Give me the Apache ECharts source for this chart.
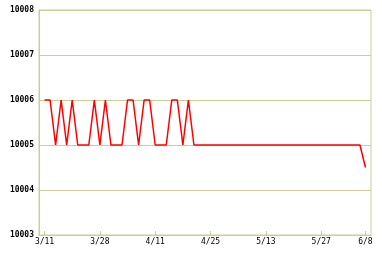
<!DOCTYPE html>
<html><head><meta charset="utf-8">
<script src="https://cdn.jsdelivr.net/npm/echarts@6/dist/echarts.min.js"></script>
<style>html,body{margin:0;padding:0;background:#fff}#c{width:382px;height:258px}</style>
</head><body><div id="c"></div>
<script>
// point index -> tick label
const tickIndex = [0, 10, 20, 30, 40, 50, 58];
const tickLabels = ['3/11', '3/28', '4/11', '4/25', '5/13', '5/27', '6/8'];
const values = [
  10006, 10006, 10005, 10006, 10005, 10006, 10005, 10005, 10005, 10006,
  10005, 10006, 10005, 10005, 10005, 10006, 10006, 10005, 10006, 10006,
  10005, 10005, 10005, 10006, 10006, 10005, 10006, 10005, 10005, 10005,
  10005, 10005, 10005, 10005, 10005, 10005, 10005, 10005, 10005, 10005,
  10005, 10005, 10005, 10005, 10005, 10005, 10005, 10005, 10005, 10005,
  10005, 10005, 10005, 10005, 10005, 10005, 10005, 10005, 10004.5
];
const yMin = 10003, yMax = 10008, yStep = 1;

// categories: one padding slot before and after the data
const categories = ['pad0'];
for (let i = 0; i < values.length; i++) {
  const k = tickIndex.indexOf(i);
  categories.push(k >= 0 ? tickLabels[k] : 'p' + i);
}
categories.push('pad1');
const seriesData = [null].concat(values).concat([null]);
const isTick = (idx) => tickIndex.indexOf(idx - 1) >= 0;

const gridColor = '#cccc99';
const chart = echarts.init(document.getElementById('c'), null, {renderer: 'canvas'});
chart.setOption({
  animation: false,
  backgroundColor: '#ffffff',
  grid: {left: 39, top: 10, right: 11, bottom: 23, show: true, borderColor: gridColor, borderWidth: 1, containLabel: false},
  xAxis: {
    type: 'category',
    data: categories,
    boundaryGap: false,
    axisLine: {lineStyle: {color: gridColor, width: 1}},
    axisTick: {inside: true, length: 4, lineStyle: {color: gridColor}, interval: (idx) => isTick(idx)},
    axisLabel: {
      interval: (idx) => isTick(idx),
      color: '#000', fontFamily: 'DejaVu Sans Mono', fontSize: 8, margin: 3
    },
    splitLine: {show: false}
  },
  yAxis: {
    type: 'value',
    min: yMin, max: yMax, interval: yStep,
    axisLine: {show: true, lineStyle: {color: gridColor}},
    axisTick: {show: false},
    axisLabel: {color: '#000', fontFamily: 'DejaVu Sans Mono', fontWeight: 'bold', fontSize: 8, margin: 5,
      formatter: (v) => String(v)},
    splitLine: {lineStyle: {color: gridColor, width: 1}}
  },
  series: [{
    type: 'line',
    data: seriesData,
    showSymbol: false,
    connectNulls: false,
    lineStyle: {color: '#ff0000', width: 1.5},
    itemStyle: {color: '#ff0000'}
  }]
});
</script></body></html>
